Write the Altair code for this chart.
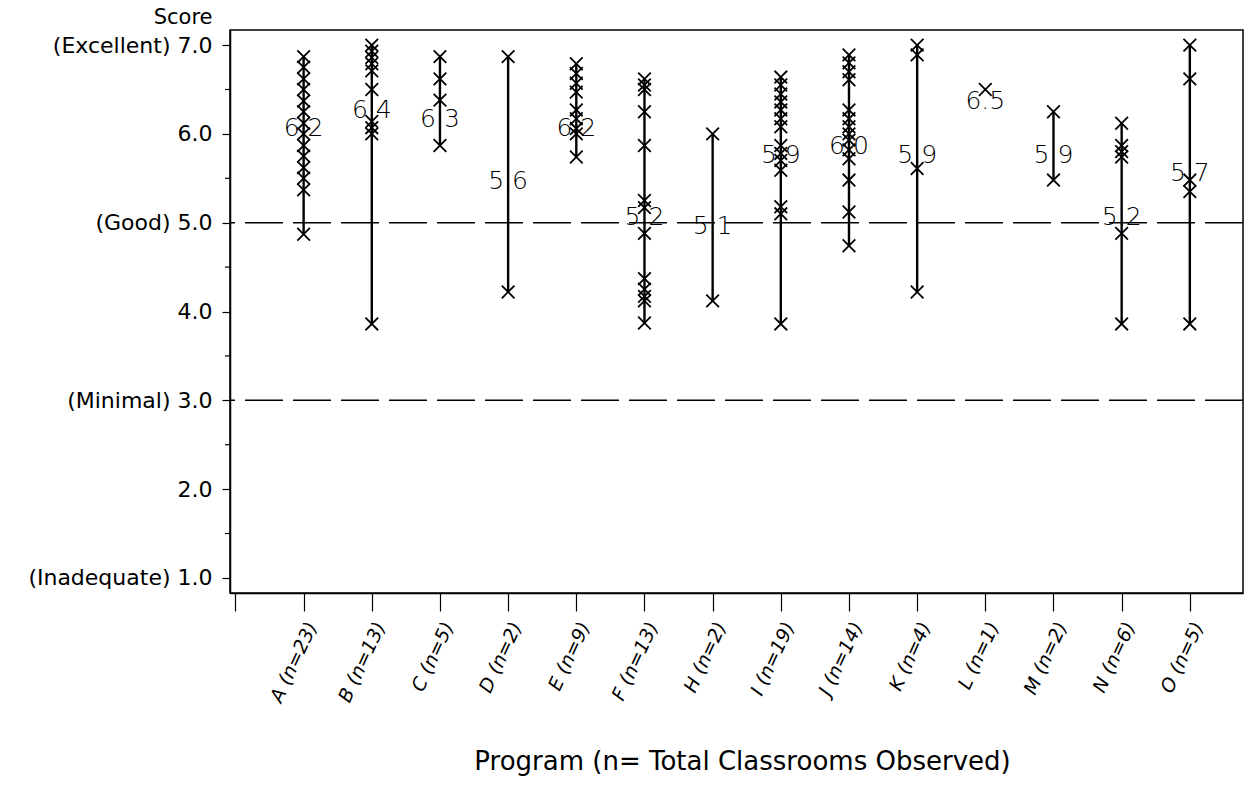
import altair as alt
import pandas as pd

programs = ["A", "B", "C", "D", "E", "F", "H", "I", "J", "K", "L", "M", "N", "O"]
counts = [23, 13, 5, 2, 9, 13, 2, 19, 14, 4, 1, 2, 6, 5]
means = [6.2, 6.4, 6.3, 5.6, 6.2, 5.2, 5.1, 5.9, 6.0, 5.9, 6.5, 5.9, 5.2, 5.7]

scores_A = [6.87, 6.75, 6.62, 6.5, 6.37, 6.25, 6.12, 6.0, 5.87, 5.75, 5.62, 5.5, 5.37, 4.87]
scores_B = [7.0, 6.93, 6.86, 6.79, 6.71, 6.5, 6.14, 6.07, 6.0, 3.86]
scores_C = [6.87, 6.62, 6.38, 5.87]
scores_D = [6.87, 4.22]
scores_E = [6.79, 6.68, 6.57, 6.47, 6.27, 6.17, 6.06, 6.0, 5.74]
scores_F = [6.62, 6.55, 6.5, 6.25, 5.87, 5.25, 5.17, 4.88, 4.37, 4.25, 4.17, 4.12, 3.87]
scores_H = [6.0, 4.12]
scores_I = [6.64, 6.55, 6.45, 6.36, 6.27, 6.17, 6.08, 5.87, 5.78, 5.7, 5.59, 5.18, 5.1, 3.86]
scores_J = [6.89, 6.8, 6.7, 6.61, 6.27, 6.17, 6.08, 6.0, 5.93, 5.82, 5.72, 5.48, 5.12, 4.74]
scores_K = [7.0, 6.89, 5.61, 4.22]
scores_L = [6.5]
scores_M = [6.25, 5.48]
scores_N = [6.12, 5.87, 5.8, 5.74, 4.88, 3.86]
scores_O = [7.0, 6.62, 5.48, 5.35, 3.86]

all_scores = [scores_A, scores_B, scores_C, scores_D, scores_E, scores_F, scores_H,
              scores_I, scores_J, scores_K, scores_L, scores_M, scores_N, scores_O]

ref_levels = [5.0, 3.0]
y_ticks = [1, 2, 3, 4, 5, 6, 7]
y_minor = [1.5, 2.5, 3.5, 4.5, 5.5, 6.5]

x_labels = [""] + [f"{p} (n={n})" for p, n in zip(programs, counts)]

rows = []
for i, sc in enumerate(all_scores):
    for s in sc:
        rows.append({"pos": i + 1, "score": s})
pts = pd.DataFrame(rows)
mean_df = pd.DataFrame({"pos": list(range(1, 15)), "mean": means})
ref_df = pd.DataFrame({"level": ref_levels})
minor_df = pd.DataFrame({"v": y_minor})

FONT = "DejaVu Sans"

x_scale = alt.Scale(domain=[-0.08, 14.78], nice=False, zero=False)
y_scale = alt.Scale(domain=[0.83, 7.17], nice=False, zero=False)

label_expr_x = "[" + ",".join("'" + s + "'" for s in x_labels) + "][round(datum.value)]"
label_expr_y = ("datum.value == 7 ? '(Excellent) 7.0' : datum.value == 5 ? '(Good) 5.0' : "
                "datum.value == 3 ? '(Minimal) 3.0' : datum.value == 1 ? '(Inadequate) 1.0' : "
                "format(datum.value, '.1f')")

x_axis = alt.Axis(
    values=list(range(0, 15)), labelExpr=label_expr_x, labelAngle=295,
    labelAlign="right", labelBaseline="top", labelFontStyle="italic",
    labelFont=FONT, labelFontSize=19, labelPadding=8, tickSize=18, labelLimit=300,
    tickColor="black", tickWidth=1.2, domainColor="black", domainWidth=1.5,
    grid=False, title="Program (n= Total Classrooms Observed)",
    titleFont=FONT, titleFontSize=26, titleFontWeight="normal",
    titleX=512, titleY=176, titleAlign="center", titleBaseline="alphabetic",
    labelColor="black", titleColor="black", labelOverlap=False, titleLimit=1000,
)
y_axis = alt.Axis(
    values=y_ticks, labelExpr=label_expr_y, labelFont=FONT, labelFontSize=22,
    labelPadding=10, tickSize=8, tickColor="black", tickWidth=1.2, labelLimit=400,
    domainColor="black", domainWidth=1.5, grid=False, title="Score",
    titleFont=FONT, titleFontSize=21, titleFontWeight="normal", titleAngle=0,
    titleAlign="right", titleX=-18, titleY=-7, titleBaseline="alphabetic",
    labelColor="black", titleColor="black", labelOverlap=False,
)

base = alt.Chart(pts)

ranges = base.mark_rule(color="black", strokeWidth=2.4).encode(
    x=alt.X("pos:Q", scale=x_scale, axis=x_axis),
    y=alt.Y("min(score):Q", scale=y_scale, axis=y_axis),
    y2="max(score):Q",
)

marks = base.mark_point(
    shape="M-1,-1L1,1M-1,1L1,-1", filled=False, color="black",
    strokeWidth=1.8, size=160, opacity=1,
).encode(
    x=alt.X("pos:Q", scale=x_scale, axis=x_axis),
    y=alt.Y("score:Q", scale=y_scale, axis=y_axis),
)

labels = alt.Chart(mean_df).mark_text(
    font=FONT, fontSize=25, fontWeight=200, baseline="top", align="center", color="black",
).encode(
    x=alt.X("pos:Q", scale=x_scale, axis=x_axis),
    y=alt.Y("mean:Q", scale=y_scale, axis=y_axis),
    text=alt.Text("mean:Q", format=".1f"),
)

refs = alt.Chart(ref_df).mark_rule(color="black", strokeWidth=1.5, strokeDash=[38, 10]).encode(
    y=alt.Y("level:Q", scale=y_scale, axis=y_axis),
)

minor = alt.Chart(minor_df).mark_rule(color="black", strokeWidth=1.2).encode(
    y=alt.Y("v:Q", scale=y_scale, axis=y_axis),
    x=alt.value(-5), x2=alt.value(0),
)

chart = alt.layer(ranges, marks, labels, refs, minor).properties(
    width=1013, height=563,
    autosize=alt.AutoSizeParams(type="none"),
    padding={"left": 230, "top": 30, "right": 12, "bottom": 211},
    background="white",
).configure_view(stroke="black", strokeWidth=1.5)

chart.save("out.html", embed_options={"renderer": "svg", "actions": False})
